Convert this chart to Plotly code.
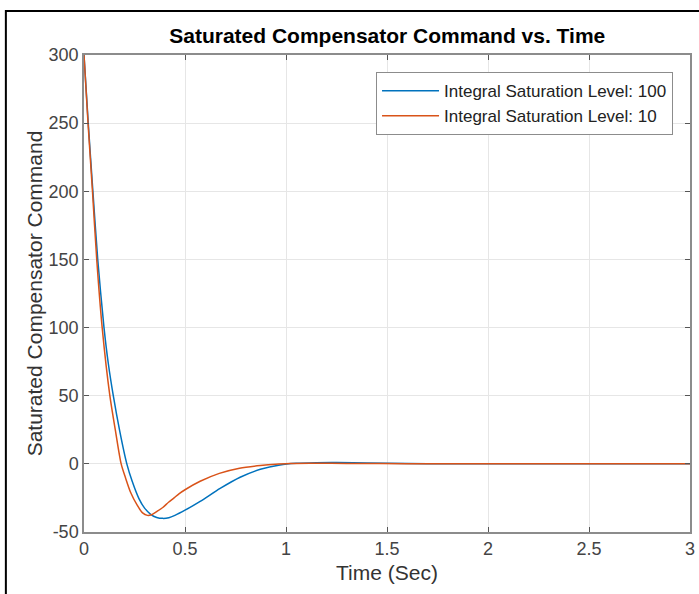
import plotly.graph_objects as go

# Blue: Integral Saturation Level 100
t_100 = [0, 0.021, 0.044, 0.068, 0.099, 0.12, 0.145, 0.177, 0.212, 0.239, 0.272, 0.30, 0.33, 0.36,
         0.39, 0.42, 0.45, 0.50, 0.575, 0.674, 0.773, 0.873, 0.97, 1.05, 1.15, 1.25, 1.4, 1.6, 1.8,
         2.0, 2.5, 3.0]
v_100 = [300, 250, 200, 150, 100, 74, 50, 24, 0, -13, -25.5, -32.5, -37, -39.3,
         -40, -39.5, -37.8, -34, -27.5, -18, -9.8, -4, -0.8, 0.4, 0.9, 1.0, 0.6, 0.2, 0.05,
         0, 0, 0]

# Orange: Integral Saturation Level 10
t_10 = [0, 0.02, 0.042, 0.063, 0.09, 0.128, 0.155, 0.184, 0.205, 0.231, 0.264, 0.29, 0.314, 0.335,
        0.36, 0.39, 0.42, 0.446, 0.47, 0.50, 0.575, 0.67, 0.77, 0.873, 0.95, 1.02, 1.12, 1.3, 1.6,
        2.0, 2.5, 3.0]
v_10 = [300, 250, 200, 150, 100, 50, 25, 0, -10, -21, -30.5, -36, -37.8, -37.3,
        -35, -32, -28, -25, -22, -19, -12.8, -7, -3.2, -1.2, -0.2, 0.2, 0.4, 0.3, 0.1,
        0, 0, 0]

x_ticks = [0, 0.5, 1, 1.5, 2, 2.5, 3]
x_tick_labels = ["0", "0.5", "1", "1.5", "2", "2.5", "3"]
y_ticks = [-50, 0, 50, 100, 150, 200, 250, 300]
y_tick_labels = ["-50", "0", "50", "100", "150", "200", "250", "300"]

FONT = "Liberation Sans, Arial, Helvetica, sans-serif"

fig = go.Figure()
fig.add_trace(go.Scatter(x=t_100, y=v_100, mode="lines", name="Integral Saturation Level: 100",
                         line=dict(color="#0072BD", width=1.5, shape="spline", smoothing=0.8)))
fig.add_trace(go.Scatter(x=t_10, y=v_10, mode="lines", name="Integral Saturation Level: 10",
                         line=dict(color="#D95319", width=1.5, shape="spline", smoothing=0.8)))

axis_common = dict(showline=True, linecolor="#8c8c8c", linewidth=1.5, mirror="ticks",
                   ticks="inside", ticklen=5, tickwidth=1, tickcolor="#555555",
                   showgrid=True, gridcolor="#e6e6e6", gridwidth=1, zeroline=False,
                   tickfont=dict(family=FONT, size=18, color="#444444"))

fig.update_layout(
    width=699, height=594,
    margin=dict(l=84, r=4, t=55, b=62),
    paper_bgcolor="white", plot_bgcolor="white",
    title=dict(text="<b>Saturated Compensator Command vs. Time</b>", x=0.554, xanchor="center",
               y=0.94, yanchor="middle", font=dict(family=FONT, size=21, color="black")),
    xaxis=dict(range=[0, 3], tickvals=x_ticks, ticktext=x_tick_labels,
               title=dict(text="Time (Sec)", font=dict(family=FONT, size=21, color="#333333"), standoff=7),
               **axis_common),
    yaxis=dict(range=[-50, 300], tickvals=y_ticks, ticktext=y_tick_labels,
               title=dict(text="Saturated Compensator Command", font=dict(family=FONT, size=21, color="#333333"), standoff=0),
               **axis_common),
    legend=dict(x=0.972, xanchor="right", y=0.964, yanchor="top", bgcolor="white",
                bordercolor="#8c8c8c", borderwidth=1, itemwidth=57,
                font=dict(family=FONT, size=17, color="#222222"), tracegroupgap=0),
    showlegend=True,
    shapes=[dict(type="rect", xref="paper", yref="paper",
                 x0=(6 - 84) / 605, x1=(760 - 84) / 605, y0=(532 - 650) / 477, y1=(532 - 11) / 477,
                 line=dict(color="black", width=2), fillcolor="rgba(0,0,0,0)", layer="below")],
)

fig.write_html("out.html")
